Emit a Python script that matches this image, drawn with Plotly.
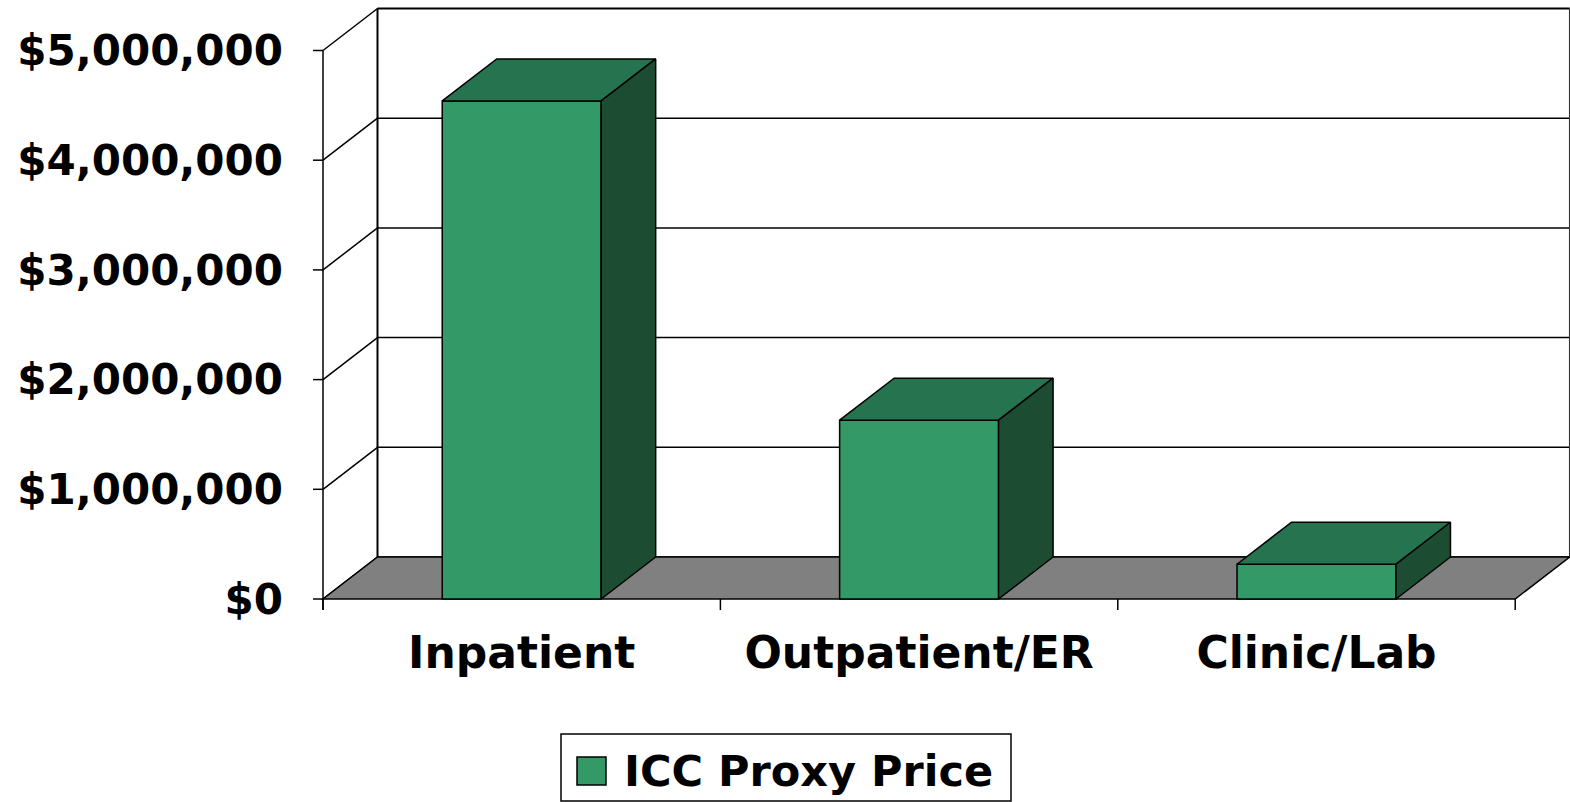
import plotly.graph_objects as go

# ---------------- data ----------------
categories = ["Inpatient", "Outpatient/ER", "Clinic/Lab"]
values = [4540000, 1630000, 317000]
y_tick_values = [0, 1000000, 2000000, 3000000, 4000000, 5000000]
series_name = "ICC Proxy Price"

# ---------------- layout constants ----------------
W, H = 1570, 802
ML, MR, MT, MB = 312, 0, 4, 191
plot_w = W - ML - MR
plot_h = H - MT - MB
PX_X = 397.4            # pixels per category unit
PX_Y = 109.7 / 1e6      # pixels per dollar
x_front_left = -0.5
n = len(categories)
x_front_right = n - 0.5
x_range = [x_front_left - 11 / PX_X, x_front_left - 11 / PX_X + plot_w / PX_X]
y_range = [-12 / PX_Y, -12 / PX_Y + plot_h / PX_Y]
DX = 54.5 / PX_X        # depth offset in x units
DY = 42 / PX_Y          # depth offset in y units
BAR_W = 0.4
y_max = max(y_tick_values)

FRONT = "#339966"
TOP = "#267350"
SIDE = "#1c4d33"
FLOOR = "#808080"
FONT = "DejaVu Sans"

shapes = []
def seg(xa, ya, xb, yb, w=1.5, color="black"):
    shapes.append(dict(type="line", xref="x", yref="y", x0=xa, y0=ya, x1=xb, y1=yb,
                       line=dict(color=color, width=w), layer="below"))

# back wall gridlines and side-wall diagonals
for v in y_tick_values:
    seg(x_front_left + DX, v + DY, x_front_right + DX, v + DY, w=2 if v == y_max else 1.5)
    seg(x_front_left, v, x_front_left + DX, v + DY)
    # y tick marks
    seg(x_front_left - 10 / PX_X, v, x_front_left, v)
# back wall verticals
seg(x_front_left + DX, DY, x_front_left + DX, y_max + DY, w=2)
seg(x_front_right + DX, DY, x_front_right + DX, y_max + DY, w=1.5, color="#333333")
# floor
shapes.append(dict(type="path", xref="x", yref="y", layer="below",
                   path=f"M{x_front_left},0 L{x_front_right},0 L{x_front_right + DX},{DY} "
                        f"L{x_front_left + DX},{DY} Z",
                   fillcolor=FLOOR, line=dict(color="black", width=1.5)))
# front value axis line
seg(x_front_left, -11 / PX_Y, x_front_left, y_max)
# category tick marks
for i in range(n + 1):
    xb = x_front_left + i
    seg(xb, 0, xb, -11 / PX_Y)

fig = go.Figure()

# front faces
fig.add_trace(go.Bar(x=list(range(n)), y=values, width=BAR_W, name=series_name,
                     marker=dict(color=FRONT, line=dict(color="black", width=1.5)),
                     showlegend=False, hoverinfo="skip"))

# top and side faces
for i, v in enumerate(values):
    xl, xr = i - BAR_W / 2, i + BAR_W / 2
    fig.add_trace(go.Scatter(
        x=[xl, xr, xr + DX, xl + DX, xl], y=[v, v, v + DY, v + DY, v],
        mode="lines", fill="toself", fillcolor=TOP,
        line=dict(color="black", width=1.5), showlegend=False, hoverinfo="skip"))
    fig.add_trace(go.Scatter(
        x=[xr, xr + DX, xr + DX, xr, xr], y=[0, DY, v + DY, v, 0],
        mode="lines", fill="toself", fillcolor=SIDE,
        line=dict(color="black", width=1.5), showlegend=False, hoverinfo="skip"))

# manual legend (paper coords)
def px2x(p):
    return (p - ML) / plot_w
def py2y(p):
    return (H - MB - p) / plot_h

shapes.append(dict(type="rect", xref="paper", yref="paper",
                   x0=px2x(561), x1=px2x(1011), y0=py2y(801), y1=py2y(734),
                   line=dict(color="black", width=1.5), fillcolor="white"))
shapes.append(dict(type="rect", xref="paper", yref="paper",
                   x0=px2x(577), x1=px2x(606), y0=py2y(785), y1=py2y(757),
                   line=dict(color="black", width=1.5), fillcolor=FRONT))
annotations = [dict(xref="paper", yref="paper", x=px2x(622), y=py2y(771),
                    xanchor="left", yanchor="middle", showarrow=False,
                    text="<b>" + series_name + "</b>",
                    font=dict(family=FONT, size=43, color="black"))]

fig.update_layout(
    width=W, height=H, autosize=False,
    margin=dict(l=ML, r=MR, t=MT, b=MB, pad=0),
    plot_bgcolor="white", paper_bgcolor="white",
    shapes=shapes, annotations=annotations, showlegend=False,
    xaxis=dict(range=x_range, tickvals=list(range(n)),
               ticktext=["<b>" + c + "</b>" for c in categories],
               ticks="", showgrid=False, zeroline=False, showline=False,
               tickfont=dict(family=FONT, size=44, color="black"),
               ticklabelstandoff=12, fixedrange=True),
    yaxis=dict(range=y_range, tickvals=y_tick_values,
               ticktext=["<b>$" + f"{v:,}" + "</b>" for v in y_tick_values],
               ticks="", showgrid=False, zeroline=False, showline=False,
               tickfont=dict(family=FONT, size=42, color="black"),
               ticklabelstandoff=28, fixedrange=True),
)

fig.write_html("out.html", config={"displayModeBar": False},
               post_script="document.body.style.margin='0';document.body.style.overflow='hidden';")
